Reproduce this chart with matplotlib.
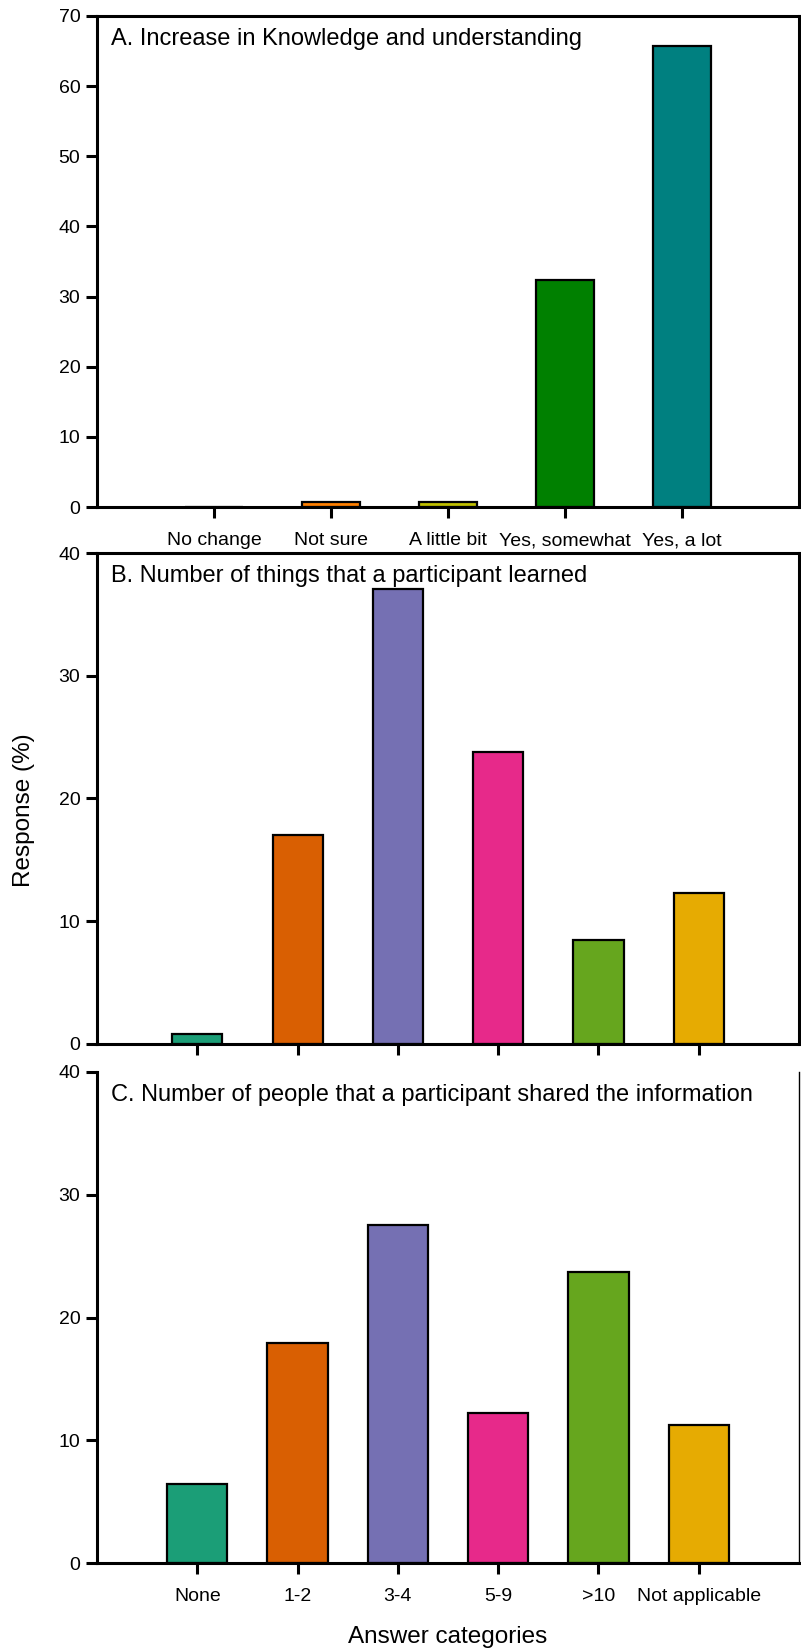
import numpy as np
import matplotlib
matplotlib.use('Agg')
import matplotlib.pyplot as plt

plt.rcParams['font.family'] = ['Liberation Sans', 'DejaVu Sans']

# panel A
cats_a = ["No change", "Not sure", "A little bit", "Yes, somewhat", "Yes, a lot"]
vals_a = [0.0, 0.75, 0.75, 32.3, 65.7]
cols_a = ["#ff8000", "#ff8000", "#bfbf00", "#008000", "#008080"]

# panel B
vals_b = [0.85, 17.05, 37.1, 23.75, 8.45, 12.3]
# panel C
cats_c = ["None", "1-2", "3-4", "5-9", ">10", "Not applicable"]
vals_c = [6.45, 17.9, 27.5, 12.2, 23.7, 11.25]
cols_bc = ["#1b9e77", "#d95f02", "#7570b3", "#e7298a", "#66a61e", "#e6ab02"]

titles = ["A. Increase in Knowledge and understanding",
          "B. Number of things that a participant learned",
          "C. Number of people that a participant shared the information"]

W, H = 801, 1648
fig = plt.figure(figsize=(W / 100, H / 100), dpi=100)

def px_axes(top, bottom, left=97, right=799):
    return fig.add_axes([left / W, 1 - bottom / H, (right - left) / W, (bottom - top) / H])

ax_a = px_axes(16, 507)
ax_b = px_axes(553, 1044)
ax_c = px_axes(1072, 1563)

def style(ax, ymax, step):
    for s in ax.spines.values():
        s.set_linewidth(2.2)
    ax.set_ylim(0, ymax)
    ax.set_yticks(np.arange(0, ymax + 1, step))
    ax.tick_params(axis='both', direction='out', length=8, width=2.2, labelsize=14, pad=4)
    ax.tick_params(axis='x', pad=10)

# A
xa = np.arange(1, len(cats_a) + 1)
ax_a.bar(xa, vals_a, width=0.5, color=cols_a, edgecolor='black', linewidth=1.6)
ax_a.set_xlim(0, 6)
ax_a.set_xticks(xa)
ax_a.set_xticklabels(cats_a)
style(ax_a, 70, 10)
ax_a.text(0.02, 0.953, titles[0], transform=ax_a.transAxes, fontsize=17, va='center')

# B
xb = np.arange(1, len(vals_b) + 1)
ax_b.bar(xb, vals_b, width=0.5, color=cols_bc, edgecolor='black', linewidth=1.6)
ax_b.set_xlim(0, 7)
ax_b.set_xticks(xb)
ax_b.set_xticklabels([])
style(ax_b, 40, 10)
ax_b.text(0.02, 0.953, titles[1], transform=ax_b.transAxes, fontsize=17, va='center')

# C
xc = np.arange(1, len(cats_c) + 1)
ax_c.bar(xc, vals_c, width=0.6, color=cols_bc, edgecolor='black', linewidth=1.6)
ax_c.set_xlim(0, 7)
ax_c.set_xticks(xc)
ax_c.set_xticklabels(cats_c)
style(ax_c, 40, 10)
ax_c.spines['top'].set_visible(False)
ax_c.spines['right'].set_linewidth(1.0)
ax_c.text(0.02, 0.953, titles[2], transform=ax_c.transAxes, fontsize=17, va='center')

fig.text(24 / W, 1 - 810 / H, "Response (%)", rotation=90, fontsize=17.5, ha='center', va='center')
fig.text(448 / W, 1 - 1637 / H, "Answer categories", fontsize=17.5, ha='center', va='center')

plt.savefig("out.png", dpi=100)
